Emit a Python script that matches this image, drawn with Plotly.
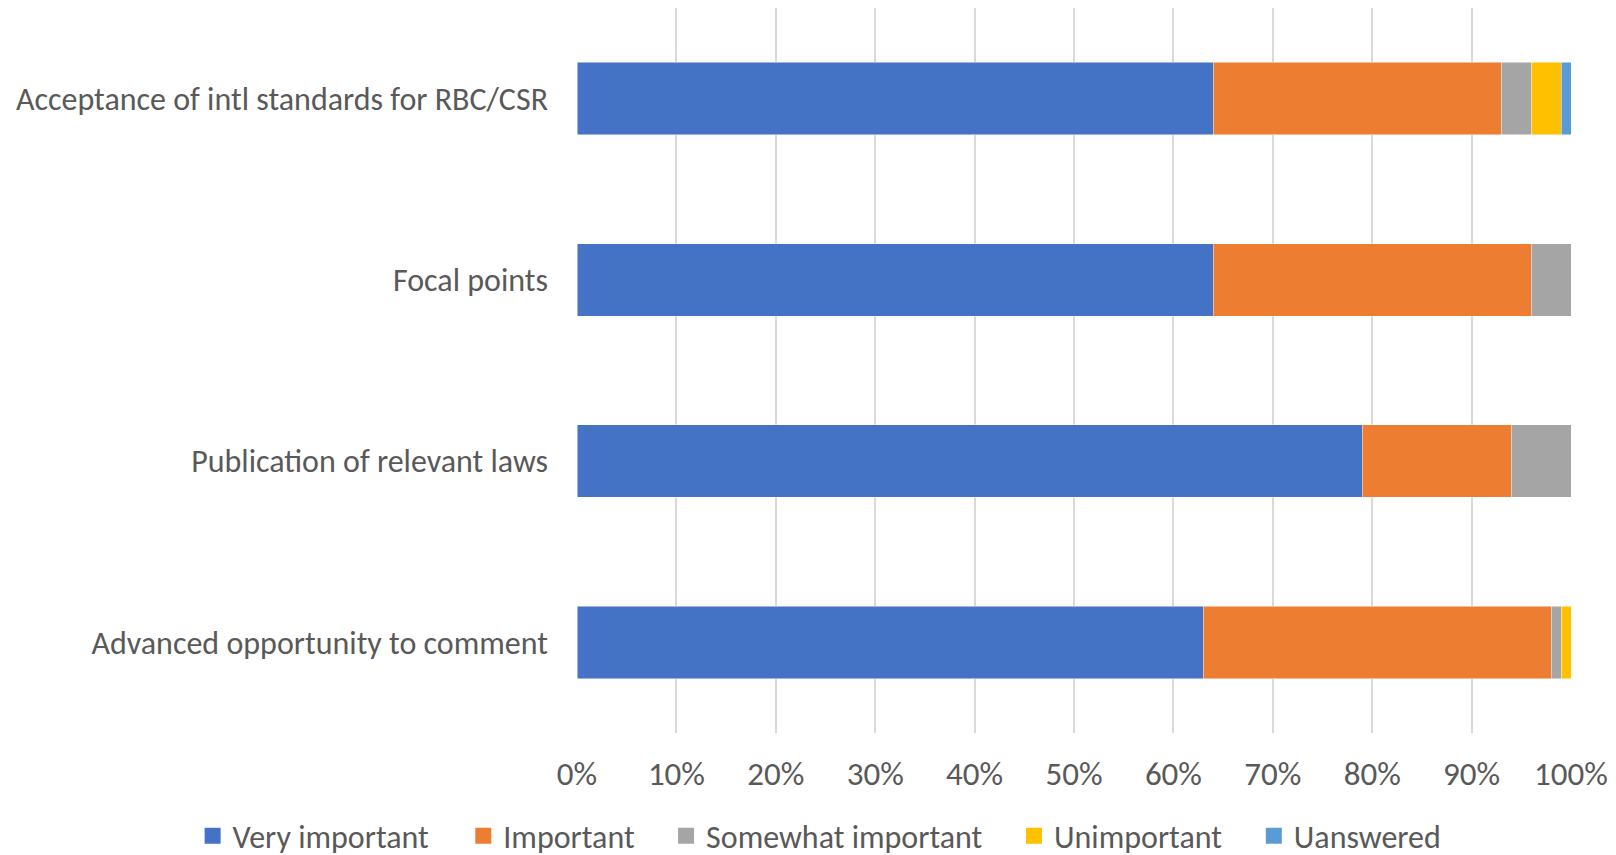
import plotly.graph_objects as go

categories = ["Acceptance of intl standards for RBC/CSR", "Focal points",
              "Publication of relevant laws", "Advanced opportunity to comment"]
series_names = ["Very important", "Important", "Somewhat important", "Unimportant", "Uanswered"]
very_important = [64, 64, 79, 63]
important = [29, 32, 15, 35]
somewhat_important = [3, 4, 6, 1]
unimportant = [3, 0, 0, 1]
unanswered = [1, 0, 0, 0]
tick_vals = [0, 10, 20, 30, 40, 50, 60, 70, 80, 90, 100]
tick_text = [f"{v}%" for v in tick_vals]

colors = ["#4472C4", "#ED7D31", "#A5A5A5", "#FFC000", "#5B9BD5"]
values = [very_important, important, somewhat_important, unimportant, unanswered]
legend_x = [-0.3867, -0.1144, 0.0896, 0.4396, 0.6809]

font_family = "Carlito, Lato, sans-serif"
text_color = "#595959"

fig = go.Figure()
for i, (name, vals, col) in enumerate(zip(series_names, values, colors)):
    lg = "legend" if i == 0 else f"legend{i + 1}"
    fig.add_trace(go.Bar(
        y=categories, x=vals, name=name, orientation="h", showlegend=False,
        marker=dict(color=col, line=dict(color="rgba(255,255,255,0.6)", width=0.8)),
    ))
    # legend swatch (square marker) for this series
    fig.add_trace(go.Scatter(
        x=[None], y=[None], mode="markers", name=name, legend=lg,
        marker=dict(symbol="square", size=16, color=col),
        hoverinfo="skip",
    ))

legends = {}
for i, lx in enumerate(legend_x):
    key = "legend" if i == 0 else f"legend{i + 1}"
    legends[key] = dict(orientation="h", x=lx, xanchor="left", y=-0.142, yanchor="middle",
                        font=dict(size=32, color=text_color, family=font_family),
                        bgcolor="rgba(0,0,0,0)")

fig.update_layout(
    barmode="stack",
    bargap=0.6,
    width=1616, height=855,
    margin=dict(l=569, r=53, t=0, b=130, autoexpand=False),
    paper_bgcolor="white", plot_bgcolor="white",
    font=dict(family=font_family, size=32, color=text_color),
    xaxis=dict(range=[0, 100], tickvals=tick_vals, ticktext=tick_text,
               showgrid=True, gridcolor="#D9D9D9", gridwidth=1.5,
               zeroline=False, showline=False, ticks="",
               tickfont=dict(size=33, color=text_color), ticklabelstandoff=18),
    yaxis=dict(autorange="reversed", showgrid=False, showline=False, ticks="",
               tickfont=dict(size=32, color=text_color), ticklabelstandoff=28),
    **legends,
)
fig.write_html("out.html")
